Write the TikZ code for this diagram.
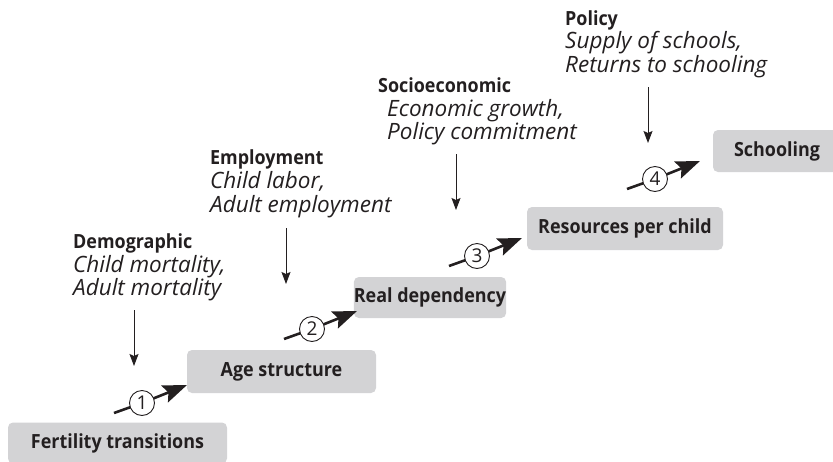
\documentclass[tikz,border=0pt]{standalone}
\usepackage{fontspec}
\setmainfont{Open Sans}[BoldFeatures={FakeStretch=0.92}]
\usetikzlibrary{arrows.meta}
\definecolor{boxgray}{HTML}{D3D3D5}
\definecolor{ink}{HTML}{231F20}
\tikzset{
  stage/.style={fill=boxgray, rounded corners=5pt, inner sep=0pt, text=ink,
    font=\fontsize{19.5}{21}\selectfont\bfseries},
  head/.style={anchor=base west, inner sep=0pt, text=ink, font=\fontsize{19.5}{21}\selectfont\bfseries},
  item/.style={anchor=base west, inner sep=0pt, text=ink, font=\fontsize{22.5}{24}\selectfont\itshape},
  numc/.style={circle, draw=ink, line width=0.9pt, fill=white, minimum size=25pt, inner sep=0pt,
    text=ink, font=\fontsize{19}{20}\selectfont},
  numline/.style={draw=ink, line width=2.6pt},
  numarrow/.style={numline, -{Stealth[length=24pt,width=18pt,inset=4pt]}},
  downarrow/.style={draw=ink, line width=1pt, -{Stealth[length=12pt,width=9pt,inset=2pt]}}
}
\begin{document}
\begin{tikzpicture}[x=1pt,y=-1pt]
\useasboundingbox (0,0) rectangle (833,461);
% stages
\node[stage, minimum width=219pt, minimum height=41pt] (fert) at (117.5,443) {Fertility transitions};
\node[stage, minimum width=189pt, minimum height=43pt] (age) at (281.5,371.5) {Age structure};
\node[stage, minimum width=147pt, minimum height=41pt] (real) at (430,297.5) {Real dependency};
\node[stage, minimum width=196pt, minimum height=43pt] (res) at (625,228.5) {Resources per child};
\node[stage, minimum width=128pt, minimum height=42pt] (school) at (777,151) {Schooling};
% factor texts
\node[head] (demh) at (73,248) {Demographic};
\node[item] (dem1) at (73,272) {Child mortality,};
\node[item] (dem2) at (73,295) {Adult mortality};
\node[head] (emph) at (210,164) {Employment};
\node[item] (emp1) at (210,188) {Child labor,};
\node[item] (emp2) at (210,212) {Adult employment};
\node[head] (soch) at (378,92) {Socioeconomic};
\node[item] (soc1) at (387,116) {Economic growth,};
\node[item] (soc2) at (387,139) {Policy commitment};
\node[head] (polh) at (565,25) {Policy};
\node[item] (pol1) at (565,48) {Supply of schools,};
\node[item] (pol2) at (565,72) {Returns to schooling};
% down arrows
\coordinate (da1) at (134,310); \coordinate (da2) at (134,366);
\coordinate (db1) at (286,228); \coordinate (db2) at (286,284);
\coordinate (dc1) at (456,154); \coordinate (dc2) at (456,210);
\coordinate (dd1) at (648,87);  \coordinate (dd2) at (648,143);
\draw[downarrow] (da1) -- (da2);
\draw[downarrow] (db1) -- (db2);
\draw[downarrow] (dc1) -- (dc2);
\draw[downarrow] (dd1) -- (dd2);
% numbered arrows
\foreach \i/\cx/\cy in {1/142/403, 2/312/329, 3/477/256, 4/655/179}{
  \coordinate (t\i) at (\cx-28,\cy+10);
  \coordinate (h\i) at (\cx+45,\cy-18);
  \draw[numline] (t\i) -- (\cx,\cy);
  \draw[numarrow] (\cx,\cy) -- (h\i);
  \node[numc] (n\i) at (\cx,\cy) {\i};
}
\end{tikzpicture}
\end{document}
